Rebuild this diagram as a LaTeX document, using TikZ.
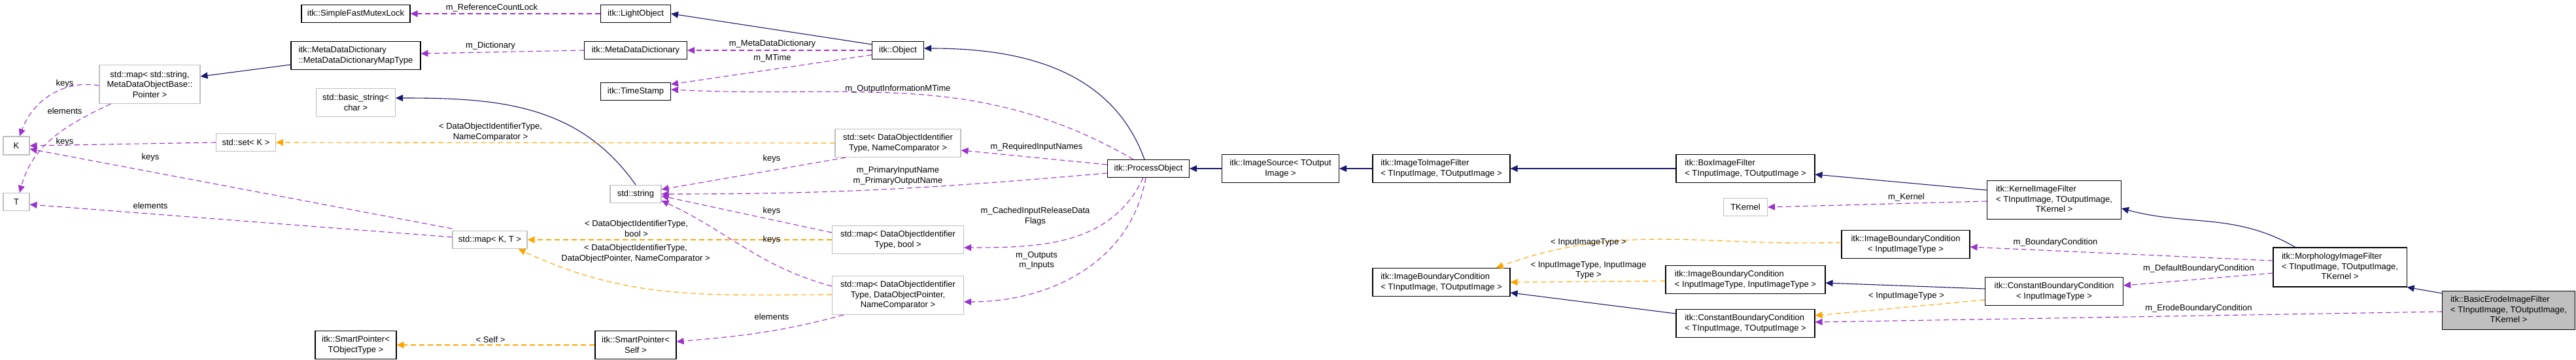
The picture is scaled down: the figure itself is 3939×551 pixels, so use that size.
\documentclass[tikz,border=0pt]{standalone}
\usepackage{fontspec}
\setmainfont{Liberation Sans}
\usetikzlibrary{arrows.meta}
\definecolor{navy}{HTML}{191970}
\definecolor{purp}{HTML}{9A32CD}
\definecolor{orng}{HTML}{FFA500}
\definecolor{frame}{HTML}{BFBFBF}
\tikzset{
  cls/.style={draw=black, line width=1.1pt, fill=white, align=center, inner sep=1pt, font=\fontsize{13}{15.5}\selectfont},
  ext/.style={cls, draw=frame},
  inh/.style={draw=navy, line width=1.1pt, -{Triangle[length=11pt,width=10pt]}},
  use/.style={draw=purp, line width=1.1pt, dash pattern=on 8pt off 5pt, -{Triangle[length=11pt,width=10pt]}},
  tpl/.style={draw=orng, line width=1.1pt, dash pattern=on 8pt off 5pt, -{Triangle[length=11pt,width=10pt]}},
  lbl/.style={align=center, inner sep=0pt, font=\fontsize{13}{15.5}\selectfont}
}
\begin{document}
\begin{tikzpicture}[x=1pt,y=-1pt]
\useasboundingbox (0,0) rectangle (3939,551);
% classes
\node[cls, minimum width=166pt, minimum height=27pt] (Mutex) at (544,21) {itk::SimpleFastMutexLock};
\node[cls, minimum width=198pt, minimum height=43pt, align=left] (MapType) at (544,85) {itk::MetaDataDictionary\\::MetaDataDictionaryMapType};
\node[ext, minimum width=154pt, minimum height=59pt] (StrMap) at (229,129) {std::map< std::string,\\ MetaDataObjectBase::\\Pointer >};
\node[ext, minimum width=121pt, minimum height=43pt] (BasicString) at (544,157) {std::basic\_string<\\ char >};
\node[ext, minimum width=40pt, minimum height=28pt] (K) at (25,223) {K};
\node[ext, minimum width=91pt, minimum height=27pt] (SetK) at (376,218) {std::set< K >};
\node[ext, minimum width=40pt, minimum height=27pt] (T) at (25,309) {T};
\node[cls, minimum width=124pt, minimum height=43pt] (SPT) at (544,528) {itk::SmartPointer<\\ TObjectType >};
\node[cls, minimum width=107pt, minimum height=27pt] (LightObject) at (972,21) {itk::LightObject};
\node[cls, minimum width=157pt, minimum height=27pt] (MetaDict) at (972,77) {itk::MetaDataDictionary};
\node[cls, minimum width=107pt, minimum height=27pt] (TimeStamp) at (972,140) {itk::TimeStamp};
\node[cls, minimum width=79pt, minimum height=27pt] (Object) at (1373,77) {itk::Object};
\node[ext, minimum width=78pt, minimum height=27pt] (String) at (972,297) {std::string};
\node[ext, minimum width=114pt, minimum height=27pt] (MapKT) at (749,367) {std::map< K, T >};
\node[ext, minimum width=192pt, minimum height=43pt] (SetDO) at (1373,219) {std::set< DataObjectIdentifier\\Type, NameComparator >};
\node[ext, minimum width=201pt, minimum height=43pt] (MapBool) at (1373,367) {std::map< DataObjectIdentifier\\Type, bool >};
\node[ext, minimum width=201pt, minimum height=59pt] (MapDO) at (1373,452) {std::map< DataObjectIdentifier\\Type, DataObjectPointer,\\ NameComparator >};
\node[cls, minimum width=124pt, minimum height=43pt] (SPSelf) at (972,528) {itk::SmartPointer<\\ Self >};
\node[cls, minimum width=125pt, minimum height=27pt] (PO) at (1756,258) {itk::ProcessObject};
\node[cls, minimum width=179pt, minimum height=43pt] (ImgSrc) at (1958,258) {itk::ImageSource< TOutput\\Image >};
\node[cls, minimum width=210pt, minimum height=43pt, align=left] (I2I) at (2204,258) {itk::ImageToImageFilter\\< TInputImage, TOutputImage >};
\node[cls, minimum width=212pt, minimum height=43pt, align=left] (Box) at (2669,258) {itk::BoxImageFilter\\< TInputImage, TOutputImage >};
\node[ext, minimum width=67pt, minimum height=27pt] (TKernel) at (2669,317) {TKernel};
\node[cls, minimum width=210pt, minimum height=43pt, align=left] (IBCT) at (2204,432) {itk::ImageBoundaryCondition\\< TInputImage, TOutputImage >};
\node[cls, minimum width=244pt, minimum height=43pt, align=left] (IBCII) at (2669,428) {itk::ImageBoundaryCondition\\< InputImageType, InputImageType >};
\node[cls, minimum width=212pt, minimum height=43pt, align=left] (CBCT) at (2669,495) {itk::ConstantBoundaryCondition\\< TInputImage, TOutputImage >};
\node[cls, minimum width=205pt, minimum height=59pt] (Kernel) at (3141,306) {\begin{tabular}{@{}l@{}}itk::KernelImageFilter\\< TInputImage, TOutputImage,\\\multicolumn{1}{@{}c@{}}{TKernel >}\end{tabular}};
\node[cls, minimum width=196pt, minimum height=43pt] (IBCI) at (2914,374) {itk::ImageBoundaryCondition\\< InputImageType >};
\node[cls, minimum width=211pt, minimum height=43pt] (CBCI) at (3141,446) {itk::ConstantBoundaryCondition\\< InputImageType >};
\node[cls, minimum width=204pt, minimum height=60pt] (Morph) at (3578,409) {\begin{tabular}{@{}l@{}}itk::MorphologyImageFilter\\< TInputImage, TOutputImage,\\\multicolumn{1}{@{}c@{}}{TKernel >}\end{tabular}};
\node[cls, fill=frame, minimum width=203pt, minimum height=59pt] (Erode) at (3836,475) {\begin{tabular}{@{}l@{}}itk::BasicErodeImageFilter\\< TInputImage, TOutputImage,\\\multicolumn{1}{@{}c@{}}{TKernel >}\end{tabular}};
% inheritance
\draw[inh] ([yshift=-5pt]Object.north west) -- (LightObject.east);
\draw[inh] ([yshift=-14pt]MapType.east -| MapType.west) -- ([yshift=12pt]StrMap.east);
\draw[inh] (String.north) to[out=125,in=0] ([yshift=7pt]BasicString.east);
\draw[inh] ([xshift=-6pt]PO.north) to[out=110,in=0] ([yshift=3pt]Object.east);
\draw[inh] (ImgSrc.west) -- (PO.east);
\draw[inh] (I2I.west) -- (ImgSrc.east);
\draw[inh] (Box.west) -- (I2I.east);
\draw[inh] ([yshift=15pt]Kernel.west) -- ([yshift=-9pt]Box.east);
\draw[inh] ([xshift=-68pt]Morph.north) to[out=150,in=-15] ([yshift=-13pt]Kernel.east);
\draw[inh] ([yshift=-4pt]Erode.north west) -- (Morph.south east);
\draw[inh] ([yshift=15pt]CBCT.west) -- ([yshift=-16pt]IBCT.east);
\draw[inh] ([yshift=4pt]CBCI.west) -- ([yshift=-5pt]IBCII.east);
% usage
\draw[use] (LightObject.west) -- (Mutex.east);
\draw[use] (MetaDict.west) -- ([yshift=3pt]MapType.east);
\draw[use] (Object.west) -- (MetaDict.east);
\draw[use] ([yshift=-7pt]Object.west) -- ([yshift=11pt]TimeStamp.east);
\draw[use] ([xshift=-23pt]PO.north) to[out=150,in=-3] ([yshift=3pt]TimeStamp.east);
\draw[use] ([yshift=6pt]PO.west) -- ([yshift=-11pt]SetDO.east);
\draw[use] ([yshift=-7pt]PO.west) to[out=185,in=0] (String.east);
\draw[use] ([xshift=-8pt]PO.south) to[out=-115,in=0] ([yshift=-12pt]MapBool.east);
\draw[use] ([xshift=-4pt]PO.south) to[out=-100,in=0] ([yshift=-10pt]MapDO.east);
\draw[use] ([xshift=17pt]SetDO.south west) -- ([yshift=7pt]String.east);
\draw[use] ([yshift=11pt]MapBool.west) -- ([yshift=-3pt]String.east);
\draw[use] ([yshift=14pt]MapDO.west) to[out=165,in=-25] ([yshift=-10pt]String.east);
\draw[use] ([yshift=-2pt]StrMap.west) to[out=170,in=70] ([xshift=5pt]K.north);
\draw[use] ([xshift=18pt]StrMap.south west) to[out=-155,in=75] ([xshift=5pt]T.north);
\draw[use] (SetK.west) -- (K.east);
\draw[use] ([yshift=17pt]MapKT.west) -- ([yshift=-5pt]K.east);
\draw[use] ([yshift=4pt]MapKT.west) -- ([yshift=-4pt]T.east);
\draw[use] ([xshift=18pt]MapDO.south west) to[out=-165,in=5] ([yshift=5pt]SPSelf.east);
\draw[use] ([yshift=-2pt]Kernel.west) -- (TKernel.east);
\draw[use] ([yshift=10pt]Morph.west) -- ([yshift=-4pt]IBCI.east);
\draw[use] ([yshift=-9pt]Morph.west) -- ([yshift=9pt]CBCI.east);
\draw[use] ([yshift=-2pt]Erode.west) -- ([yshift=2pt]CBCT.east);
% templates
\draw[tpl] (SetDO.west) -- (SetK.east);
\draw[tpl] (MapBool.west) -- (MapKT.east);
\draw[tpl] ([yshift=1pt]MapDO.west) to[out=180,in=-25] ([xshift=-14pt]MapKT.south east);
\draw[tpl] (SPSelf.west) -- (SPT.east);
\draw[tpl] ([yshift=3pt]IBCI.west) to[out=182,in=20] ([xshift=-22pt]IBCT.north east);
\draw[tpl] ([yshift=-2pt]IBCII.west) -- (IBCT.east);
\draw[tpl] ([yshift=-13pt]CBCI.west) -- ([yshift=12pt]CBCT.east);
% labels
\node[lbl] (l1) at (752,12) {m\_ReferenceCountLock};
\node[lbl] (l2) at (750,70) {m\_Dictionary};
\node[lbl] (l3) at (1181,67) {m\_MetaDataDictionary};
\node[lbl] (l4) at (1181,89) {m\_MTime};
\node[lbl] (l5) at (1373,136) {m\_OutputInformationMTime};
\node[lbl] (l6) at (1585,225) {m\_RequiredInputNames};
\node[lbl] (l7) at (1373,269) {m\_PrimaryInputName\\m\_PrimaryOutputName};
\node[lbl] (l8) at (1583,331) {m\_CachedInputReleaseData\\Flags};
\node[lbl] (l9) at (1585,399) {m\_Outputs\\m\_Inputs};
\node[lbl] (l10) at (1180,243) {keys};
\node[lbl] (l11) at (1180,323) {keys};
\node[lbl] (l12) at (1180,367) {keys};
\node[lbl] (l13) at (99,128) {keys};
\node[lbl] (l14) at (99,170) {elements};
\node[lbl] (l15) at (99,217) {keys};
\node[lbl] (l16) at (230,241) {keys};
\node[lbl] (l17) at (230,315) {elements};
\node[lbl] (l18) at (1180,485) {elements};
\node[lbl] (l19) at (2915,302) {m\_Kernel};
\node[lbl] (l20) at (3143,371) {m\_BoundaryCondition};
\node[lbl] (l21) at (3362,411) {m\_DefaultBoundaryCondition};
\node[lbl] (l22) at (3362,472) {m\_ErodeBoundaryCondition};
\node[lbl] (l23) at (750,202) {< DataObjectIdentifierType,\\NameComparator >};
\node[lbl] (l24) at (973,350) {< DataObjectIdentifierType,\\bool >};
\node[lbl] (l25) at (972,388) {< DataObjectIdentifierType,\\DataObjectPointer, NameComparator >};
\node[lbl] (l26) at (750,520) {< Self >};
\node[lbl] (l27) at (2429,371) {< InputImageType >};
\node[lbl] (l28) at (2429,414) {< InputImageType, InputImage\\Type >};
\node[lbl] (l29) at (2915,453) {< InputImageType >};
\end{tikzpicture}
\end{document}
